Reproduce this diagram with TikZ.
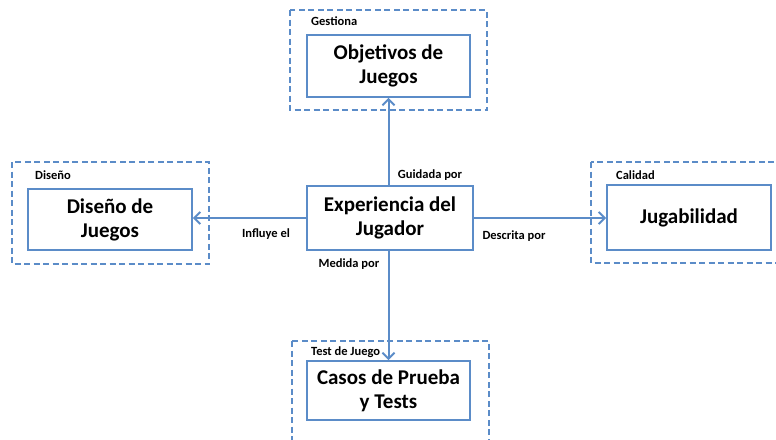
\documentclass[tikz,border=0pt]{standalone}
\usepackage{fontspec}
\setmainfont{Carlito}
\usetikzlibrary{arrows.meta}
\definecolor{boxblue}{HTML}{5B8CC8}
\tikzset{
  mainbox/.style={draw=boxblue, line width=1.8pt, fill=white, align=center, font=\bfseries\fontsize{21}{24}\selectfont, inner sep=2pt},
  groupbox/.style={draw=boxblue, line width=1.8pt, dash pattern=on 6pt off 3.5pt},
  grouplabel/.style={anchor=west, font=\bfseries\fontsize{12.5}{14}\selectfont, inner sep=0pt},
  edgelabel/.style={font=\bfseries\fontsize{12.5}{14}\selectfont, inner sep=0pt},
  conn/.style={boxblue, line width=2pt, -{Straight Barb[length=6pt,width=12pt]}}
}
\begin{document}
\begin{tikzpicture}[x=1pt,y=-1pt]
\useasboundingbox (0,0) rectangle (776,439);
\clip (0,0) rectangle (776,439);
\fill[white] (0,0) rectangle (776,439);
% group boxes
\draw[groupbox] (290,10) rectangle (487,110);
\draw[groupbox] (12,162) rectangle (209,264);
\draw[groupbox] (591,162) rectangle (800,263);
\draw[groupbox] (292,341) rectangle (489,470);
% group labels
\node[grouplabel] (lgest) at (311,21) {Gestiona};
\node[grouplabel] (ldis) at (35,175) {Diseño};
\node[grouplabel] (lcal) at (616,175) {Calidad};
\node[grouplabel] (ltest) at (311,352) {Test de Juego};
% main boxes
\node[mainbox, minimum width=163pt, minimum height=62pt] (obj) at (388.5,66) {Objetivos de\\Juegos};
\node[mainbox, minimum width=164pt, minimum height=61pt] (dis) at (110,219.5) {Diseño de\\Juegos};
\node[mainbox, minimum width=164pt, minimum height=65pt] (jug) at (689,217.5) {Jugabilidad};
\node[mainbox, minimum width=166pt, minimum height=64pt] (exp) at (390,218) {Experiencia del\\Jugador};
\node[mainbox, minimum width=163pt, minimum height=59pt] (cas) at (388.5,390.5) {Casos de Prueba\\y Tests};
% connectors
\draw[conn] (exp.north -| obj.south) -- (obj.south);
\draw[conn] (exp.west) -- (exp.west -| dis.east);
\draw[conn] (exp.east) -- (exp.east -| jug.west);
\draw[conn] (exp.south -| cas.north) -- (cas.north);
% edge labels
\node[edgelabel] (gp) at (430,175) {Guidada por};
\node[edgelabel] (ie) at (266,234) {Influye el};
\node[edgelabel] (dp) at (514,236) {Descrita por};
\node[edgelabel] (mp) at (349,264) {Medida por};
\end{tikzpicture}
\end{document}
